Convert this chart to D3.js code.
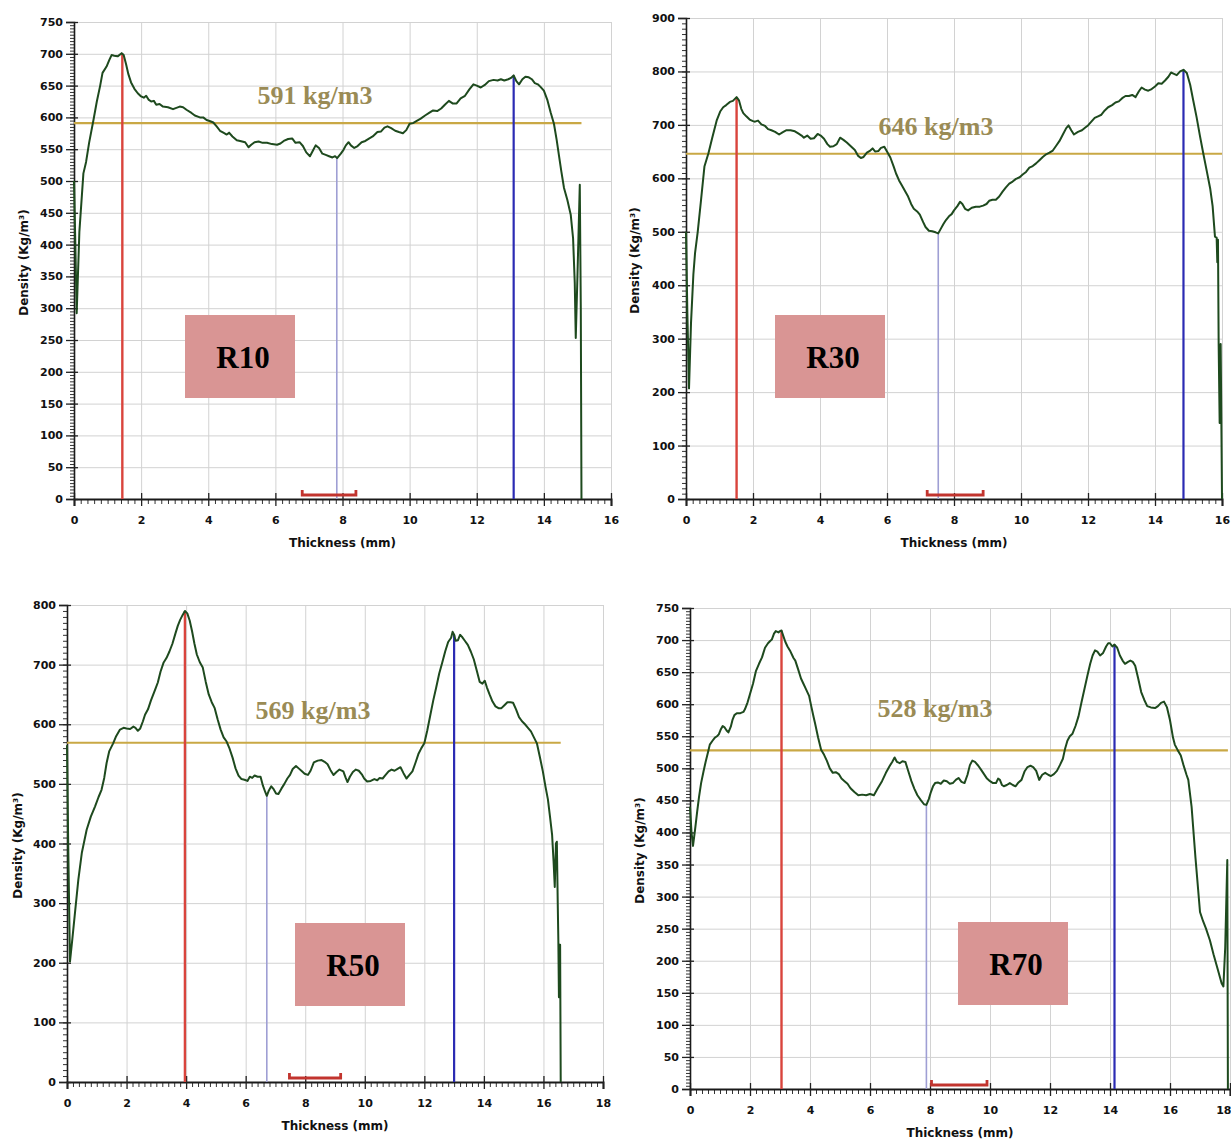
<!DOCTYPE html>
<html>
<head>
<meta charset="utf-8">
<script src="https://cdn.jsdelivr.net/npm/d3@7"></script>
<style>
  html, body { margin: 0; padding: 0; background: #ffffff; }
  svg { display: block; }
  .tick text { font-family: "DejaVu Sans", Verdana, sans-serif; font-weight: bold; font-size: 11px; fill: #111; }
  .axis-title { font-family: "DejaVu Sans", Verdana, sans-serif; font-weight: bold; font-size: 12px; fill: #111; }
  .avg-label { font-family: "Liberation Serif", "Times New Roman", serif; font-weight: bold; font-size: 26px; fill: #9a8b55; }
  .sample-label { font-family: "Liberation Serif", "Times New Roman", serif; font-weight: bold; font-size: 31px; fill: #000; }
</style>
</head>
<body>
<svg id="chart" width="1231" height="1139"></svg>
<script>
// Density profiles: [thickness (mm), density (kg/m³)]
const profileR10 = [
  [0,500],[0.04,400],[0.08,292],[0.16,420],[0.28,512],[0.36,530],[0.45,560],[0.58,596],[0.68,625],[0.78,650],
  [0.85,670],[0.97,680],[1.05,690],[1.12,698],[1.2,697],[1.3,696],[1.42,701],[1.48,698],[1.55,684],[1.62,668],
  [1.7,655],[1.8,645],[1.9,638],[2.0,633],[2.08,631],[2.15,634],[2.22,628],[2.3,625],[2.38,626],[2.45,620],
  [2.55,621],[2.65,617],[2.8,616],[2.95,613],[3.05,615],[3.15,617],[3.25,616],[3.35,612],[3.5,607],[3.6,603],
  [3.75,600],[3.85,600],[3.95,596],[4.06,594],[4.15,592],[4.25,586],[4.35,579],[4.45,576],[4.55,573],[4.62,576],
  [4.72,570],[4.85,564],[4.95,563],[5.1,561],[5.2,553],[5.28,557],[5.38,561],[5.5,562],[5.62,560],[5.75,560],
  [5.9,558],[6.05,557],[6.15,559],[6.25,563],[6.38,566],[6.5,567],[6.6,560],[6.72,561],[6.82,555],[6.92,545],
  [7.03,539],[7.12,548],[7.2,556],[7.3,552],[7.4,543],[7.5,541],[7.6,539],[7.7,537],[7.78,539],[7.84,536],
  [7.95,543],[8.03,549],[8.1,556],[8.18,561],[8.25,556],[8.35,552],[8.45,555],[8.57,561],[8.68,563],[8.8,567],
  [8.9,570],[9.04,577],[9.15,578],[9.25,584],[9.34,586],[9.45,583],[9.57,579],[9.68,577],[9.8,575],[9.9,580],
  [10.0,590],[10.1,591],[10.2,594],[10.33,598],[10.46,603],[10.58,607],[10.7,611],[10.82,610],[10.94,614],[11.05,620],
  [11.17,626],[11.28,622],[11.4,622],[11.52,630],[11.65,634],[11.78,644],[11.9,652],[12.0,650],[12.12,647],[12.24,651],
  [12.36,657],[12.5,659],[12.62,658],[12.72,660],[12.82,658],[12.94,660],[13.02,662],[13.1,666],[13.18,657],[13.26,652],
  [13.36,660],[13.45,664],[13.55,663],[13.64,660],[13.73,654],[13.82,652],[13.9,648],[14.0,642],[14.1,628],[14.2,608],
  [14.3,590],[14.38,565],[14.45,540],[14.52,515],[14.6,489],[14.7,470],[14.8,447],[14.87,410],[14.92,340],[14.95,253],
  [15.0,350],[15.07,494],[15.1,300],[15.12,0]
];

const profileR30 = [
  [0,500],[0.04,350],[0.09,207],[0.15,330],[0.22,420],[0.27,460],[0.35,500],[0.45,560],[0.55,622],[0.67,647],
  [0.78,675],[0.92,709],[1.02,725],[1.11,733],[1.2,737],[1.31,743],[1.4,745],[1.51,752],[1.58,746],[1.65,730],
  [1.71,722],[1.8,716],[1.9,710],[2.0,707],[2.06,706],[2.15,708],[2.25,701],[2.36,698],[2.45,692],[2.55,690],
  [2.66,687],[2.78,682],[2.88,686],[3.0,690],[3.12,690],[3.25,688],[3.35,684],[3.45,680],[3.52,676],[3.62,680],
  [3.72,674],[3.82,675],[3.93,683],[4.02,680],[4.12,674],[4.22,664],[4.3,659],[4.4,660],[4.5,664],[4.6,676],
  [4.7,672],[4.8,667],[4.92,660],[5.04,653],[5.14,642],[5.22,638],[5.3,640],[5.4,648],[5.5,652],[5.57,656],
  [5.65,650],[5.74,651],[5.82,657],[5.92,659],[6.0,650],[6.1,639],[6.2,622],[6.27,609],[6.36,596],[6.45,586],
  [6.55,575],[6.63,566],[6.72,552],[6.8,543],[6.9,538],[6.98,532],[7.08,518],[7.15,509],[7.25,502],[7.35,501],
  [7.45,499],[7.53,497],[7.6,505],[7.68,514],[7.76,522],[7.85,529],[7.93,533],[8.0,540],[8.1,548],[8.18,556],
  [8.25,552],[8.33,543],[8.42,540],[8.53,545],[8.65,547],[8.77,547],[8.87,549],[8.97,552],[9.05,558],[9.15,560],
  [9.25,560],[9.35,566],[9.45,575],[9.55,583],[9.65,590],[9.75,594],[9.85,599],[9.96,602],[10.05,607],[10.15,612],
  [10.25,620],[10.35,623],[10.45,628],[10.55,634],[10.65,640],[10.75,645],[10.85,648],[10.95,652],[11.05,661],[11.15,670],
  [11.25,682],[11.35,694],[11.42,699],[11.5,690],[11.58,682],[11.7,687],[11.82,690],[11.92,695],[12.0,699],[12.1,706],
  [12.2,713],[12.3,716],[12.4,719],[12.5,727],[12.6,733],[12.72,737],[12.82,742],[12.92,744],[13.02,750],[13.12,754],
  [13.22,754],[13.32,756],[13.42,752],[13.52,763],[13.6,770],[13.7,766],[13.8,764],[13.9,767],[14.0,772],[14.1,778],
  [14.2,777],[14.3,783],[14.4,790],[14.48,798],[14.55,796],[14.65,793],[14.75,800],[14.85,803],[14.95,797],[15.05,775],
  [15.14,746],[15.24,715],[15.34,680],[15.44,647],[15.55,612],[15.65,580],[15.72,548],[15.79,491],[15.84,489],[15.86,443],
  [15.88,485],[15.9,290],[15.93,142],[15.96,290],[15.98,150],[16.0,0]
];

const profileR50 = [
  [0,565],[0.04,400],[0.1,202],[0.18,240],[0.26,280],[0.38,339],[0.5,385],[0.66,423],[0.8,445],[0.94,462],
  [1.06,478],[1.16,490],[1.25,510],[1.33,535],[1.42,555],[1.55,568],[1.65,580],[1.78,591],[1.9,594],[2.0,593],
  [2.12,592],[2.23,596],[2.3,594],[2.38,589],[2.46,593],[2.55,605],[2.62,616],[2.72,625],[2.82,640],[2.96,658],
  [3.05,670],[3.14,688],[3.24,703],[3.34,711],[3.44,722],[3.54,735],[3.64,752],[3.72,765],[3.8,775],[3.88,783],
  [3.96,790],[4.04,786],[4.12,774],[4.2,756],[4.28,735],[4.36,717],[4.46,704],[4.56,695],[4.66,671],[4.76,650],
  [4.86,637],[4.96,627],[5.06,608],[5.16,591],[5.26,578],[5.36,571],[5.46,559],[5.56,544],[5.66,526],[5.76,514],
  [5.86,508],[5.96,507],[6.06,505],[6.14,512],[6.22,510],[6.3,514],[6.4,512],[6.5,512],[6.58,497],[6.66,486],
  [6.71,480],[6.78,489],[6.86,496],[6.94,491],[7.02,484],[7.1,483],[7.2,492],[7.3,500],[7.4,509],[7.49,515],
  [7.58,525],[7.69,530],[7.78,526],[7.89,521],[7.98,517],[8.09,515],[8.18,522],[8.29,536],[8.42,539],[8.55,540],
  [8.65,537],[8.75,533],[8.85,523],[8.95,515],[9.05,520],[9.15,524],[9.28,521],[9.36,510],[9.42,503],[9.5,512],
  [9.6,520],[9.7,524],[9.8,522],[9.9,516],[9.98,509],[10.08,504],[10.2,505],[10.32,508],[10.42,506],[10.5,510],
  [10.6,509],[10.7,515],[10.8,521],[10.9,524],[11.0,522],[11.1,525],[11.2,528],[11.3,518],[11.4,509],[11.5,515],
  [11.6,521],[11.7,535],[11.8,550],[11.9,560],[12.0,568],[12.1,590],[12.2,615],[12.3,640],[12.4,662],[12.5,685],
  [12.6,703],[12.7,722],[12.8,738],[12.9,745],[12.95,755],[13.0,750],[13.05,740],[13.13,741],[13.2,750],[13.26,747],
  [13.36,740],[13.46,733],[13.56,722],[13.66,709],[13.76,690],[13.86,671],[13.95,668],[14.03,673],[14.1,662],[14.19,650],
  [14.29,638],[14.39,630],[14.49,627],[14.59,627],[14.69,632],[14.79,637],[14.89,637],[14.98,636],[15.08,625],[15.18,612],
  [15.28,605],[15.38,600],[15.48,594],[15.58,588],[15.68,578],[15.78,568],[15.88,545],[15.98,521],[16.07,495],[16.15,474],
  [16.22,445],[16.29,415],[16.34,370],[16.38,327],[16.42,400],[16.45,403],[16.48,300],[16.5,239],[16.52,142],[16.54,230],
  [16.56,230],[16.58,0]
];

const profileR70 = [
  [0,440],[0.05,400],[0.1,379],[0.17,405],[0.24,433],[0.3,455],[0.37,477],[0.45,495],[0.52,510],[0.6,525],
  [0.66,537],[0.75,543],[0.83,548],[0.9,550],[0.96,553],[1.02,560],[1.09,566],[1.15,564],[1.22,559],[1.28,556],
  [1.36,565],[1.42,576],[1.48,583],[1.56,586],[1.68,586],[1.78,588],[1.83,592],[1.92,603],[2.0,616],[2.1,632],
  [2.2,652],[2.3,663],[2.4,673],[2.5,688],[2.6,695],[2.68,699],[2.73,701],[2.8,710],[2.86,714],[2.95,712],
  [3.0,714],[3.05,715],[3.12,705],[3.18,697],[3.25,690],[3.35,682],[3.45,672],[3.51,668],[3.6,655],[3.7,640],
  [3.77,633],[3.85,625],[3.97,613],[4.05,595],[4.12,580],[4.17,570],[4.27,548],[4.37,529],[4.47,521],[4.56,512],
  [4.66,500],[4.76,493],[4.86,494],[4.96,491],[5.05,484],[5.15,480],[5.25,476],[5.35,469],[5.48,463],[5.61,458],
  [5.74,459],[5.87,458],[6.0,460],[6.13,458],[6.25,468],[6.4,480],[6.53,493],[6.66,504],[6.74,510],[6.82,517],
  [6.9,510],[6.99,508],[7.08,511],[7.18,510],[7.28,495],[7.38,480],[7.48,468],[7.58,458],[7.7,450],[7.8,444],
  [7.88,443],[7.96,452],[8.03,463],[8.1,472],[8.17,477],[8.26,478],[8.36,476],[8.46,481],[8.56,480],[8.66,476],
  [8.76,477],[8.86,482],[8.95,485],[9.05,479],[9.15,477],[9.25,490],[9.33,505],[9.41,512],[9.5,510],[9.61,504],
  [9.7,498],[9.8,491],[9.9,484],[10.0,480],[10.1,477],[10.2,477],[10.27,484],[10.33,482],[10.4,474],[10.46,472],
  [10.56,474],[10.66,477],[10.76,474],[10.85,472],[10.95,478],[11.05,482],[11.15,495],[11.25,502],[11.35,504],[11.44,502],
  [11.54,496],[11.64,482],[11.74,490],[11.84,493],[11.94,490],[12.03,488],[12.13,491],[12.23,496],[12.33,505],[12.43,515],
  [12.5,530],[12.58,543],[12.66,550],[12.75,554],[12.85,566],[12.95,581],[13.05,603],[13.15,624],[13.25,645],[13.34,663],
  [13.42,676],[13.5,684],[13.58,682],[13.67,676],[13.77,680],[13.87,690],[13.94,695],[14.0,695],[14.08,690],[14.15,693],
  [14.24,688],[14.33,676],[14.42,668],[14.5,663],[14.6,666],[14.68,668],[14.76,666],[14.84,660],[14.94,640],[15.04,619],
  [15.14,607],[15.24,597],[15.36,595],[15.5,594],[15.6,597],[15.7,602],[15.8,604],[15.9,595],[16.0,575],[16.1,548],
  [16.16,537],[16.26,528],[16.36,520],[16.45,505],[16.55,490],[16.61,482],[16.72,440],[16.85,360],[17.0,276],[17.1,262],
  [17.2,250],[17.33,232],[17.45,210],[17.6,185],[17.72,165],[17.78,160],[17.84,220],[17.91,357],[17.93,0]
];

// Mean densities (kg/m³)
const sampleNames = ["R10", "R30", "R50", "R70"];
const meanDensity = [591, 646, 569, 528];

// Marker positions (mm): left face peak, core minimum, right face peak
const faceLeft = [1.44, 1.51, 3.96, 3.05];
const coreMin = [7.83, 7.53, 6.71, 7.88];
const faceRight = [13.1, 14.85, 13.0, 14.15];

// Core zone brackets (mm)
const coreZone = [[6.8, 8.4], [7.2, 8.87], [7.47, 9.19], [8.05, 9.9]];

// Axis ranges
const thicknessMax = [16, 16, 18, 18];
const densityMax = [750, 900, 800, 750];
const densityStep = [50, 100, 100, 50];
const densityMinorStep = [5, 10, 10, 5];

const profiles = [profileR10, profileR30, profileR50, profileR70];

// Panel placement on the page
const layout = [
  { left: 74,  right: 611,  top: 22,  bottom: 499,  yTitleX: 24,  avgX: 315, avgY: 95,  box: [185, 315, 110, 83] },
  { left: 686, right: 1222, top: 18,  bottom: 499,  yTitleX: 635, avgX: 936, avgY: 126, box: [775, 315, 110, 83] },
  { left: 67,  right: 603,  top: 605, bottom: 1082, yTitleX: 18,  avgX: 313, avgY: 710, box: [295, 923, 110, 83] },
  { left: 690, right: 1230, top: 608, bottom: 1089, yTitleX: 640, avgX: 935, avgY: 708, box: [958, 922, 110, 83] }
];

const svg = d3.select("#chart");
svg.append("rect").attr("width", 1231).attr("height", 1139).attr("fill", "#fff");

const bisect = d3.bisector(d => d[0]).left;
function densityAt(data, t) {
  const i = Math.max(1, Math.min(data.length - 1, bisect(data, t)));
  const a = data[i - 1], b = data[i];
  const k = (t - a[0]) / (b[0] - a[0]);
  return a[1] + k * (b[1] - a[1]);
}

sampleNames.forEach((name, p) => {
  const L = layout[p];
  const data = profiles[p];
  const x = d3.scaleLinear().domain([0, thicknessMax[p]]).range([L.left, L.right]);
  const y = d3.scaleLinear().domain([0, densityMax[p]]).range([L.bottom, L.top]);
  const g = svg.append("g");

  const xMajor = d3.range(0, thicknessMax[p] + 0.001, 2);
  const xMinor = d3.range(0, thicknessMax[p] + 0.001, 0.2).filter(v => Math.abs(v / 2 - Math.round(v / 2)) > 1e-6);
  const yMajor = d3.range(0, densityMax[p] + 0.001, densityStep[p]);
  const yMinor = d3.range(0, densityMax[p] + 0.001, densityMinorStep[p]);

  // grid
  g.append("g")
    .attr("transform", `translate(0,${L.bottom})`)
    .call(d3.axisBottom(x).tickValues(xMajor).tickSize(-(L.bottom - L.top)).tickFormat(""))
    .call(s => s.select(".domain").remove())
    .call(s => s.selectAll("line").attr("stroke", "#d2d2d2").attr("stroke-width", 1));
  g.append("g")
    .attr("transform", `translate(${L.left},0)`)
    .call(d3.axisLeft(y).tickValues(yMajor).tickSize(-(L.right - L.left)).tickFormat(""))
    .call(s => s.select(".domain").remove())
    .call(s => s.selectAll("line").attr("stroke", "#d2d2d2").attr("stroke-width", 1));

  // minor ticks
  g.append("g")
    .attr("transform", `translate(0,${L.bottom})`)
    .call(d3.axisBottom(x).tickValues(xMinor).tickSize(5).tickFormat(""))
    .call(s => s.select(".domain").remove())
    .call(s => s.selectAll("line").attr("stroke", "#333").attr("stroke-width", 1));
  g.append("g")
    .attr("transform", `translate(${L.left},0)`)
    .call(d3.axisLeft(y).tickValues(yMinor).tickSize(4).tickFormat(""))
    .call(s => s.select(".domain").remove())
    .call(s => s.selectAll("line").attr("stroke", "#333").attr("stroke-width", 1));

  // major axes
  const xAxis = g.append("g")
    .attr("transform", `translate(0,${L.bottom})`)
    .call(d3.axisBottom(x).tickValues(xMajor).tickSize(7).tickPadding(10).tickFormat(d3.format("d")))
    .call(s => s.select(".domain").attr("stroke", "#1a1a1a").attr("stroke-width", 2));
  xAxis.selectAll(".tick line").attr("y1", -6).attr("stroke", "#222").attr("stroke-width", 1.3);
  // keep the last label inside the page edge
  xAxis.selectAll(".tick text")
    .filter(d => x(d) + 8 > 1231)
    .attr("text-anchor", "end").attr("x", 1231 - x(thicknessMax[p]));

  const yAxis = g.append("g")
    .attr("transform", `translate(${L.left},0)`)
    .call(d3.axisLeft(y).tickValues(yMajor).tickSize(8).tickPadding(3).tickFormat(d3.format("d")))
    .call(s => s.select(".domain").attr("stroke", "#1a1a1a").attr("stroke-width", 1.6));
  yAxis.selectAll(".tick line").attr("x1", 4).attr("stroke", "#222").attr("stroke-width", 1.3);

  // axis titles
  g.append("text").attr("class", "axis-title")
    .attr("x", (L.left + L.right) / 2).attr("y", L.bottom + 48)
    .attr("text-anchor", "middle").text("Thickness (mm)");
  g.append("text").attr("class", "axis-title")
    .attr("transform", `translate(${L.yTitleX + 4},${(L.top + L.bottom) / 2 + 2}) rotate(-90)`)
    .attr("text-anchor", "middle").text("Density (Kg/m³)");

  const lastT = data[data.length - 1][0];

  // mean density line
  g.append("line")
    .attr("x1", x(0)).attr("x2", x(lastT))
    .attr("y1", y(meanDensity[p])).attr("y2", y(meanDensity[p]))
    .attr("stroke", "#c9a845").attr("stroke-width", 2.2);

  // vertical markers
  const markers = [
    { t: faceLeft[p], color: "#d9443c", w: 2.4 },
    { t: coreMin[p], color: "#9f9fd4", w: 1.6 },
    { t: faceRight[p], color: "#2b2bb3", w: 2.2 }
  ];
  g.selectAll(".marker").data(markers).join("line")
    .attr("x1", d => x(d.t)).attr("x2", d => x(d.t))
    .attr("y1", y(0)).attr("y2", d => y(densityAt(data, d.t)))
    .attr("stroke", d => d.color).attr("stroke-width", d => d.w);

  // core bracket
  const [c0, c1] = coreZone[p];
  g.append("path")
    .attr("d", `M${x(c0)},${L.bottom - 9}V${L.bottom - 4}H${x(c1)}V${L.bottom - 9}`)
    .attr("fill", "none").attr("stroke", "#c2342e").attr("stroke-width", 2.8);

  // density profile
  g.append("path")
    .datum(data)
    .attr("d", d3.line().x(d => x(d[0])).y(d => y(d[1])))
    .attr("fill", "none").attr("stroke", "#1e4a1e").attr("stroke-width", 2)
    .attr("stroke-linejoin", "round");

  // mean value label
  g.append("text").attr("class", "avg-label")
    .attr("x", L.avgX).attr("y", L.avgY).attr("dy", "0.35em")
    .attr("text-anchor", "middle").text(`${meanDensity[p]} kg/m3`);

  // sample tag
  const [bx, by, bw, bh] = L.box;
  g.append("rect").attr("x", bx).attr("y", by).attr("width", bw).attr("height", bh).attr("fill", "#d99594");
  g.append("text").attr("class", "sample-label")
    .attr("x", bx + bw / 2 + 3).attr("y", by + bh / 2 + 11)
    .attr("text-anchor", "middle").text(name);
});
</script>
</body>
</html>
